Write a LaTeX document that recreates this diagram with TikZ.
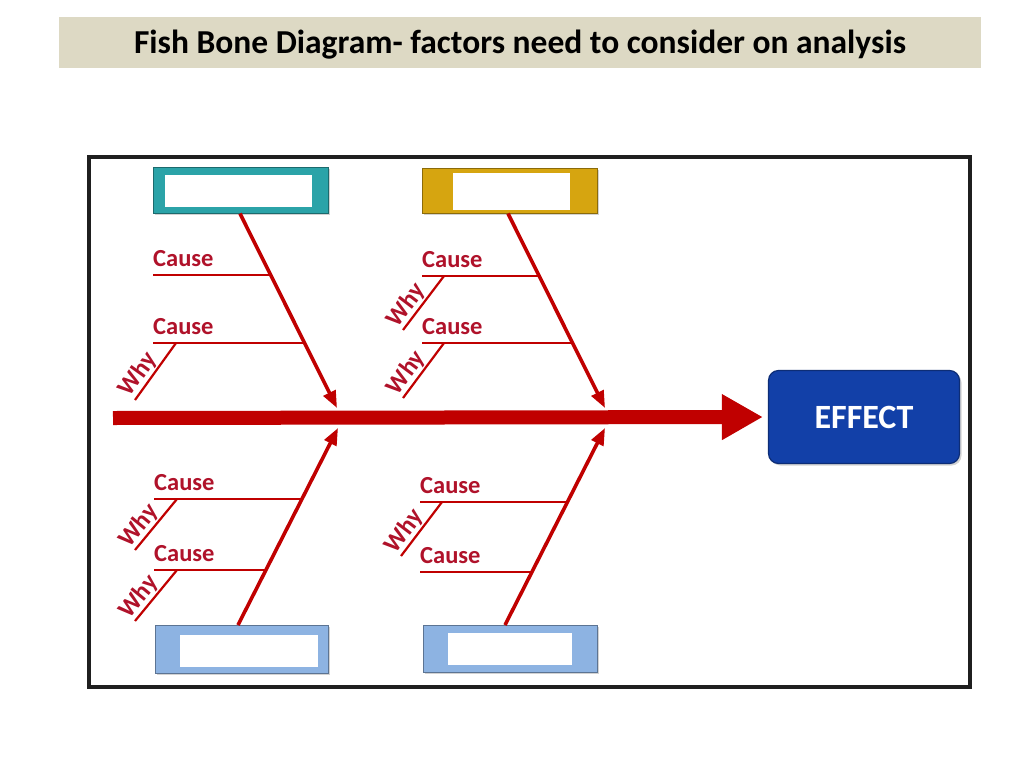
\documentclass[tikz,border=0pt]{standalone}
\usepackage{fontspec}
\setmainfont{Carlito}
\usetikzlibrary{arrows.meta,shadows}
\definecolor{titlebg}{HTML}{DDD9C4}
\definecolor{bonered}{HTML}{C00000}
\definecolor{txtred}{HTML}{B0122A}
\definecolor{teal}{HTML}{2BA3A8}
\definecolor{gold}{HTML}{D6A510}
\definecolor{lblue}{HTML}{8DB3E2}
\definecolor{effblue}{HTML}{1240A8}
\tikzset{
  catbox/.style={draw=#1!65!black, fill=#1, line width=1pt, inner sep=0pt,
    drop shadow={shadow xshift=2pt, shadow yshift=-2pt, opacity=0.35}},
  innerbox/.style={fill=white, inner sep=0pt},
  bonearrow/.style={draw=bonered, line width=3.6pt,
    -{Triangle[length=17pt,width=13pt]}},
  causeline/.style={draw=bonered, line width=2.6pt},
  whyline/.style={draw=bonered, line width=2.2pt},
  causetxt/.style={text=txtred, font=\bfseries\fontsize{24.5}{28}\selectfont,
    inner sep=0pt, anchor=base west},
  whytxt/.style={text=txtred, font=\bfseries\fontsize{25}{28}\selectfont,
    inner sep=0.5pt, pos=0.32, sloped, above},
}
\begin{document}
\begin{tikzpicture}[x=1pt,y=-1pt]
\useasboundingbox (0,0) rectangle (1024,768);
\fill[white] (0,0) rectangle (1024,768);
% title
\node[fill=titlebg, minimum width=922pt, minimum height=51pt, inner sep=0pt] (titlebar) at (520,42.5) {};
\node[anchor=base, inner sep=0pt, font=\bfseries\fontsize{33.5}{38}\selectfont] (title) at (520,53)
  {Fish Bone Diagram- factors need to consider on analysis};
% frame
\draw[line width=4pt, black!88] (89,157) rectangle (970,687);
% effect box
\node[draw=effblue!70!black, fill=effblue, line width=1.2pt, rounded corners=10pt,
  minimum width=191pt, minimum height=93pt, inner sep=0pt,
  drop shadow={shadow xshift=2pt, shadow yshift=-2pt, opacity=0.35},
  text=white, font=\bfseries\fontsize{34}{38}\selectfont] (eff) at (864,417) {EFFECT};
% spine
\coordinate (tail) at (113,418);
\draw[bonered, line width=14pt, -{Triangle[length=41pt,width=43pt]},
  shorten >=5pt] (tail) -- (eff.west);
% category boxes
\node[catbox=teal, minimum width=175pt, minimum height=46pt] (tl) at (240.5,190) {};
\node[innerbox, minimum width=147pt, minimum height=32pt] (tli) at (238.5,191) {};
\node[catbox=gold, minimum width=175pt, minimum height=45pt] (tm) at (509.5,190.5) {};
\node[innerbox, minimum width=117pt, minimum height=37pt] (tmi) at (511.5,191.5) {};
\node[catbox=lblue, minimum width=173pt, minimum height=48pt] (bl) at (241.5,649) {};
\node[innerbox, minimum width=138pt, minimum height=32pt] (bli) at (249,651) {};
\node[catbox=lblue, minimum width=174pt, minimum height=47pt] (bm) at (510,648.5) {};
\node[innerbox, minimum width=124pt, minimum height=32pt] (bmi) at (510,649) {};
% bone tips
\coordinate (tltip) at (337,408);
\coordinate (tmtip) at (605,408);
\coordinate (bltip) at (338,428);
\coordinate (bmtip) at (605,428);
% top-left bone
\coordinate (tl1a) at (153,275); \coordinate (tl1b) at (270.3,275);
\coordinate (tl2a) at (153,343); \coordinate (tl2b) at (304.7,343);
\draw[causeline] (tl1a) -- (tl1b);
\draw[causeline] (tl2a) -- (tl2b);
\node[causetxt] (tlc1) at (153,266) {Cause};
\node[causetxt] (tlc2) at (153,334) {Cause};
\coordinate (tlw2a) at (135,400); \coordinate (tlw2b) at (176,343);
\draw[whyline] (tlw2a) -- (tlw2b) node[whytxt] (tlw2) {Why};
\draw[bonearrow] (240,213.5) -- (tltip);
% top-middle bone
\coordinate (tm1a) at (422,276); \coordinate (tm1b) at (538.7,276);
\coordinate (tm2a) at (422,343); \coordinate (tm2b) at (572.3,343);
\draw[causeline] (tm1a) -- (tm1b);
\draw[causeline] (tm2a) -- (tm2b);
\node[causetxt] (tmc1) at (422,267) {Cause};
\node[causetxt] (tmc2) at (422,334) {Cause};
\coordinate (tmw1a) at (403,330); \coordinate (tmw1b) at (444,276);
\coordinate (tmw2a) at (403,398); \coordinate (tmw2b) at (444,343);
\draw[whyline] (tmw1a) -- (tmw1b) node[whytxt] (tmw1) {Why};
\draw[whyline] (tmw2a) -- (tmw2b) node[whytxt] (tmw2) {Why};
\draw[bonearrow] (508,213.5) -- (tmtip);
% bottom-left bone
\coordinate (bl1a) at (154,499); \coordinate (bl1b) at (301.3,499);
\coordinate (bl2a) at (154,570); \coordinate (bl2b) at (265,570);
\draw[causeline] (bl1a) -- (bl1b);
\draw[causeline] (bl2a) -- (bl2b);
\node[causetxt] (blc1) at (154,490) {Cause};
\node[causetxt] (blc2) at (154,561) {Cause};
\coordinate (blw1a) at (135,550); \coordinate (blw1b) at (177,499);
\coordinate (blw2a) at (135,621); \coordinate (blw2b) at (177,570);
\draw[whyline] (blw1a) -- (blw1b) node[whytxt] (blw1) {Why};
\draw[whyline] (blw2a) -- (blw2b) node[whytxt] (blw2) {Why};
\draw[bonearrow] (238,625) -- (bltip);
% bottom-middle bone
\coordinate (bm1a) at (420,502); \coordinate (bm1b) at (566.7,502);
\coordinate (bm2a) at (420,572); \coordinate (bm2b) at (531,572);
\draw[causeline] (bm1a) -- (bm1b);
\draw[causeline] (bm2a) -- (bm2b);
\node[causetxt] (bmc1) at (420,493) {Cause};
\node[causetxt] (bmc2) at (420,563) {Cause};
\coordinate (bmw1a) at (401,556); \coordinate (bmw1b) at (442,502);
\draw[whyline] (bmw1a) -- (bmw1b) node[whytxt] (bmw1) {Why};
\draw[bonearrow] (505,625) -- (bmtip);
\end{tikzpicture}
\end{document}
